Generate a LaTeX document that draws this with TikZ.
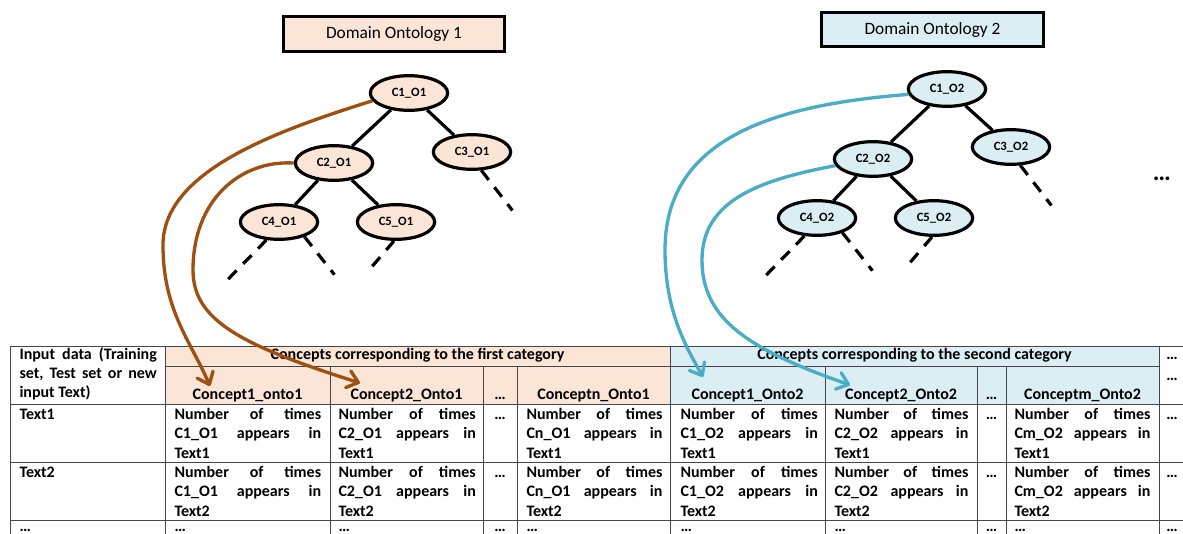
\documentclass[tikz,border=0pt]{standalone}
\usepackage{fontspec}
\setmainfont{Carlito}
\usetikzlibrary{shapes.geometric,arrows.meta}

\definecolor{ontoOrange}{RGB}{251,229,214}
\definecolor{ontoBlue}{RGB}{218,238,243}
\definecolor{arrOrange}{RGB}{158,80,18}
\definecolor{arrBlue}{RGB}{75,172,198}
\definecolor{gridGray}{RGB}{70,70,70}

\tikzset{every picture/.style={line width=0.75pt}}
\tikzset{
  titlebox/.style={draw, line width=2.4pt, minimum width=166pt, minimum height=26pt, inner sep=0pt, font=\fontsize{13}{15}\selectfont},
  concept/.style={ellipse, draw, line width=2.4pt, minimum width=58pt, minimum height=26pt, inner sep=0pt, font=\fontsize{9.5}{11}\selectfont\bfseries},
  treeedge/.style={line width=2.4pt},
  dashline/.style={line width=2.4pt, dash pattern=on 9pt off 7pt},
  maparrow/.style={line width=2.5pt, line join=round, -{Straight Barb[length=8pt,width=13pt,round]}},
  cellhead/.style={anchor=base, inner sep=0pt, font=\fontsize{12}{14.6}\selectfont\bfseries},
  cell/.style={anchor=base west, inner sep=0pt, font=\fontsize{12}{14.6}\selectfont\bfseries},
  lastdots/.style={text height=3pt, text depth=0pt},
  gridline/.style={draw=gridGray, line width=0.75pt}
}

\newcommand{\numtimes}[3]{\parbox[t]{#1}{Number\hfill of\hfill times\\#2\hfill appears\hfill in\\#3}}

\begin{document}
\begin{tikzpicture}[x=0.75pt,y=0.75pt,yscale=-1,xscale=1]
  \useasboundingbox (0,0) rectangle (1183,533);
  \clip (0,0) rectangle (1183,533);

  %Shape: Rectangle [first category fill]
  \fill [ontoOrange] (165,346) rectangle (670,404);
  %Shape: Rectangle [second category fill]
  \fill [ontoBlue] (670,346) rectangle (1159,404);

  %Straight Lines [table rows]
  \draw [gridline] (10,346) -- (1190,346);
  \draw [gridline] (165,366) -- (1159,366);
  \draw [gridline] (10,404) -- (1190,404);
  \draw [gridline] (10,462) -- (1190,462);
  \draw [gridline] (10,520) -- (1190,520);
  %Straight Lines [table columns]
  \draw [gridline] (10,346) -- (10,540);
  \draw [gridline] (165,346) -- (165,540);
  \draw [gridline] (670,346) -- (670,540);
  \draw [gridline] (1159,346) -- (1159,540);
  \draw [gridline] (330,366) -- (330,540);
  \draw [gridline] (483,366) -- (483,540);
  \draw [gridline] (517,366) -- (517,540);
  \draw [gridline] (825,366) -- (825,540);
  \draw [gridline] (977,366) -- (977,540);
  \draw [gridline] (1006,366) -- (1006,540);

  % Text Node
  \node [cell] (inp) at (19,359) {\parbox[t]{103pt}{Input\hfill data\hfill (Training\\set,\hfill Test\hfill set\hfill or\hfill new\\input Text)}};
  % Text Node
  \node [cellhead] (cat1) at (417.5,359) {Concepts corresponding to the first category};
  % Text Node
  \node [cellhead] (cat2) at (914.5,359) {Concepts corresponding to the second category};
  % Text Node
  \node [cellhead] (catx) at (1172,359) {…};
  \node [cellhead] (kx) at (1172,380) {…};
  % Text Node
  \node [cellhead] (k11) at (247.5,399) {Concept1\_onto1};
  \node [cellhead] (k12) at (406.5,399) {Concept2\_Onto1};
  \node [cellhead] (k1d) at (500,399) {…};
  \node [cellhead] (k1n) at (593.5,399) {Conceptn\_Onto1};
  \node [cellhead] (k21) at (747.5,399) {Concept1\_Onto2};
  \node [cellhead] (k22) at (901,399) {Concept2\_Onto2};
  \node [cellhead] (k2d) at (991.5,399) {…};
  \node [cellhead] (k2m) at (1082.5,399) {Conceptm\_Onto2};

  % Text Node
  \node [cell] (t1) at (19,419.5) {Text1};
  \node [cell] (a11) at (174,419.5) {\numtimes{110pt}{C1\_O1}{Text1}};
  \node [cell] (a12) at (338,419.5) {\numtimes{103pt}{C2\_O1}{Text1}};
  \node [cellhead] (a1d) at (500,419.5) {…};
  \node [cell] (a1n) at (526,419.5) {\numtimes{102pt}{Cn\_O1}{Text1}};
  \node [cell] (b11) at (680,419.5) {\numtimes{103pt}{C1\_O2}{Text1}};
  \node [cell] (b12) at (834,419.5) {\numtimes{100.5pt}{C2\_O2}{Text1}};
  \node [cellhead] (b1d) at (991.5,419.5) {…};
  \node [cell] (b1m) at (1014,419.5) {\numtimes{102pt}{Cm\_O2}{Text1}};
  \node [cellhead] (x1) at (1172,419.5) {…};

  % Text Node
  \node [cell] (t2) at (19,477.5) {Text2};
  \node [cell] (a21) at (174,477.5) {\numtimes{110pt}{C1\_O1}{Text2}};
  \node [cell] (a22) at (338,477.5) {\numtimes{103pt}{C2\_O1}{Text2}};
  \node [cellhead] (a2d) at (500,477.5) {…};
  \node [cell] (a2n) at (526,477.5) {\numtimes{102pt}{Cn\_O1}{Text2}};
  \node [cell] (b21) at (680,477.5) {\numtimes{103pt}{C1\_O2}{Text2}};
  \node [cell] (b22) at (834,477.5) {\numtimes{100.5pt}{C2\_O2}{Text2}};
  \node [cellhead] (b2d) at (991.5,477.5) {…};
  \node [cell] (b2m) at (1014,477.5) {\numtimes{102pt}{Cm\_O2}{Text2}};
  \node [cellhead] (x2) at (1172,477.5) {…};

  % Text Node [last row, dots only]
  \node [cell, lastdots] (t3) at (19,531) {…};
  \node [cell, lastdots] (a31) at (174,531) {…};
  \node [cell, lastdots] (a32) at (338,531) {…};
  \node [cellhead, lastdots] (a3d) at (500,531) {…};
  \node [cell, lastdots] (a3n) at (526,531) {…};
  \node [cell, lastdots] (b31) at (680,531) {…};
  \node [cell, lastdots] (b32) at (834,531) {…};
  \node [cellhead, lastdots] (b3d) at (991.5,531) {…};
  \node [cell, lastdots] (b3m) at (1014,531) {…};
  \node [cellhead, lastdots] (x3) at (1172,531) {…};

  %Shape: Rectangle [Domain Ontology 1]
  \node [titlebox, fill=ontoOrange] (dom1) at (394,34) {Domain Ontology 1};
  %Shape: Ellipse
  \node [concept, fill=ontoOrange] (o1c1) at (409,93) {C1\_O1};
  \node [concept, fill=ontoOrange] (o1c2) at (334,163) {C2\_O1};
  \node [concept, fill=ontoOrange] (o1c3) at (472,152) {C3\_O1};
  \node [concept, fill=ontoOrange] (o1c4) at (279,222) {C4\_O1};
  \node [concept, fill=ontoOrange] (o1c5) at (396,222) {C5\_O1};
  %Straight Lines
  \draw [treeedge] (o1c1) -- (o1c2);
  \draw [treeedge] (o1c1) -- (o1c3);
  \draw [treeedge] (o1c2) -- (o1c4);
  \draw [treeedge] (o1c2) -- (o1c5);
  \draw [dashline] (o1c4.235) -- ++(-42,43);
  \draw [dashline] (o1c4.330) -- ++(30,38);
  \draw [dashline] (o1c5.264) -- ++(-24,28);
  \draw [dashline] (o1c3.297) -- ++(31,40);

  %Shape: Rectangle [Domain Ontology 2]
  \node [titlebox, fill=ontoBlue] (dom2) at (932.5,29.5) {Domain Ontology 2};
  %Shape: Ellipse
  \node [concept, fill=ontoBlue] (o2c1) at (947,89) {C1\_O2};
  \node [concept, fill=ontoBlue] (o2c2) at (873,159) {C2\_O2};
  \node [concept, fill=ontoBlue] (o2c3) at (1011,147) {C3\_O2};
  \node [concept, fill=ontoBlue] (o2c4) at (817,218) {C4\_O2};
  \node [concept, fill=ontoBlue] (o2c5) at (934,218) {C5\_O2};
  %Straight Lines
  \draw [treeedge] (o2c1) -- (o2c2);
  \draw [treeedge] (o2c1) -- (o2c3);
  \draw [treeedge] (o2c2) -- (o2c4);
  \draw [treeedge] (o2c2) -- (o2c5);
  \draw [dashline] (o2c4.235) -- ++(-42,43);
  \draw [dashline] (o2c4.330) -- ++(30,38);
  \draw [dashline] (o2c5.264) -- ++(-24,28);
  \draw [dashline] (o2c3.297) -- ++(31,40);

  % Text Node
  \node [font=\fontsize{19}{20}\selectfont\bfseries, inner sep=0pt] (more) at (1162,179) {…};

  %Curve Lines [concept to column]
  \coordinate (tip11) at (210,386);
  \coordinate (tip12) at (360,383);
  \coordinate (tip21) at (703,377);
  \coordinate (tip22) at (850,385);
  \draw [maparrow, arrOrange] (o1c1.192) .. controls (280,130) and (163,170) .. (163,245) .. controls (163,310) and (190,340) .. (tip11);
  \draw [maparrow, arrOrange] (o1c2.west) .. controls (240,160) and (193,200) .. (193,270) .. controls (193,320) and (240,345) .. (tip12);
  \draw [maparrow, arrBlue] (o2c1.188) .. controls (770,105) and (665,140) .. (665,250) .. controls (665,310) and (685,345) .. (tip21);
  \draw [maparrow, arrBlue] (o2c2.190) .. controls (760,180) and (702,200) .. (702,260) .. controls (702,320) and (750,350) .. (tip22);
\end{tikzpicture}
\end{document}
